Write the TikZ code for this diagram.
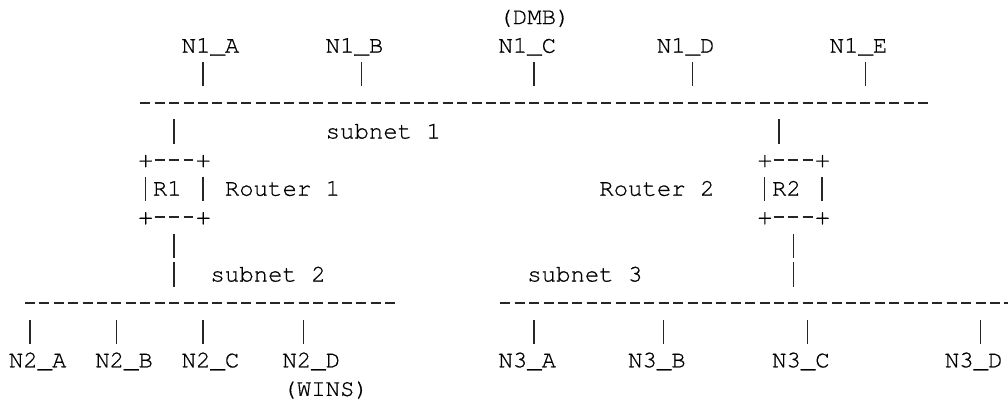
\documentclass[tikz,border=0pt]{standalone}
\usepackage{fontspec}
\newfontfamily\cour[FakeBold=0.6]{texgyrecursor-regular.otf}
\begin{document}
\begin{tikzpicture}[x=7.2pt,y=-14.3pt]
	\useasboundingbox (0,0) rectangle (70,14.056);
	\tikzstyle every node=[font=\cour\fontsize{12pt}{14pt}\selectfont,inner sep=0pt,anchor=base west]
	\tikzstyle bus=[line width=0.8pt,dash pattern=on 5pt off 2.2pt,black!85]
	\tikzstyle pipe=[line width=0.75pt,black!85]
	\begin{scope}[shift={(0.59,0.843)}]
	% subnet 1
	\node (dmb) at (34,0) {(DMB)};
	\node (n1a) at (12,1) {N1\_A};
	\node (n1b) at (22,1) {N1\_B};
	\node (n1c) at (34,1) {N1\_C};
	\node (n1d) at (45,1) {N1\_D};
	\node (n1e) at (57,1) {N1\_E};
	\coordinate (s1w) at (9.153,2.75);
	\coordinate (s1e) at (63.847,2.75);
	\draw[bus] (s1w)--(s1e);
	\node (sub1) at (22,4) {subnet 1};

	\draw[pipe] (n1a.base west) ++(1.5,.335) -- ++(0,.84);
	\draw[pipe] (n1b.base west) ++(2.5,.335) -- ++(0,.84);
	\draw[pipe] (n1c.base west) ++(2.5,.335) -- ++(0,.84);
	\draw[pipe] (n1d.base west) ++(2.5,.335) -- ++(0,.84);
	\draw[pipe] (n1e.base west) ++(2.5,.335) -- ++(0,.84);

	% routers
	\node (r1) at (10,6) {R1};
	\node (rt1) at (15,6) {Router 1};
	\node (r2) at (53,6) {R2};
	\node (rt2) at (41,6) {Router 2};
	\foreach \c/\r in {9/5,13/5,9/7,13/7,52/5,56/5,52/7,56/7}
		\node at (\c,\r) {+};
	\foreach \c in {10,53} {
		\draw[bus] (\c+.153,4.75) -- (\c+2.847,4.75);
		\draw[bus] (\c+.153,6.75) -- (\c+2.847,6.75);
	}
	\draw[pipe] (r1.base west) ++(-.5,-.665) -- ++(0,.84);
	\draw[pipe] (r1.base west) ++(3.5,-.665) -- ++(0,.84);
	\draw[pipe] (r2.base west) ++(-.5,-.665) -- ++(0,.84);
	\draw[pipe] (r2.base west) ++(3.5,-.665) -- ++(0,.84);

	\draw[pipe] (r1.base west) ++(1.5,-2.665) -- ++(0,.84);
	\draw[pipe] (r1.base west) ++(1.5,1.335) -- ++(0,.84);
	\draw[pipe] (r1.base west) ++(1.5,2.335) -- ++(0,.84);
	\draw[pipe] (r2.base west) ++(.5,-2.665) -- ++(0,.84);
	\draw[pipe] (r2.base west) ++(1.5,1.335) -- ++(0,.84);
	\draw[pipe] (r2.base west) ++(1.5,2.335) -- ++(0,.84);

	% subnet 2 and subnet 3
	\node (sub2) at (14,9) {subnet 2};
	\node (sub3) at (36,9) {subnet 3};
	\coordinate (s2w) at (1.153,9.75);
	\coordinate (s2e) at (26.847,9.75);
	\coordinate (s3w) at (34.153,9.75);
	\coordinate (s3e) at (69.847,9.75);
	\draw[bus] (s2w)--(s2e);
	\draw[bus] (s3w)--(s3e);

	\node (n2a) at (0,12) {N2\_A};
	\node (n2b) at (6,12) {N2\_B};
	\node (n2c) at (12,12) {N2\_C};
	\node (n2d) at (19,12) {N2\_D};
	\node (wins) at (19,13) {(WINS)};
	\node (n3a) at (34,12) {N3\_A};
	\node (n3b) at (43,12) {N3\_B};
	\node (n3c) at (53,12) {N3\_C};
	\node (n3d) at (65,12) {N3\_D};

	\draw[pipe] (n2a.base west) ++(1.5,-1.665) -- ++(0,.84);
	\draw[pipe] (n2b.base west) ++(1.5,-1.665) -- ++(0,.84);
	\draw[pipe] (n2c.base west) ++(1.5,-1.665) -- ++(0,.84);
	\draw[pipe] (n2d.base west) ++(1.5,-1.665) -- ++(0,.84);
	\draw[pipe] (n3a.base west) ++(2.5,-1.665) -- ++(0,.84);
	\draw[pipe] (n3b.base west) ++(2.5,-1.665) -- ++(0,.84);
	\draw[pipe] (n3c.base west) ++(2.5,-1.665) -- ++(0,.84);
	\draw[pipe] (n3d.base west) ++(2.5,-1.665) -- ++(0,.84);
	\end{scope}
\end{tikzpicture}
\end{document}
